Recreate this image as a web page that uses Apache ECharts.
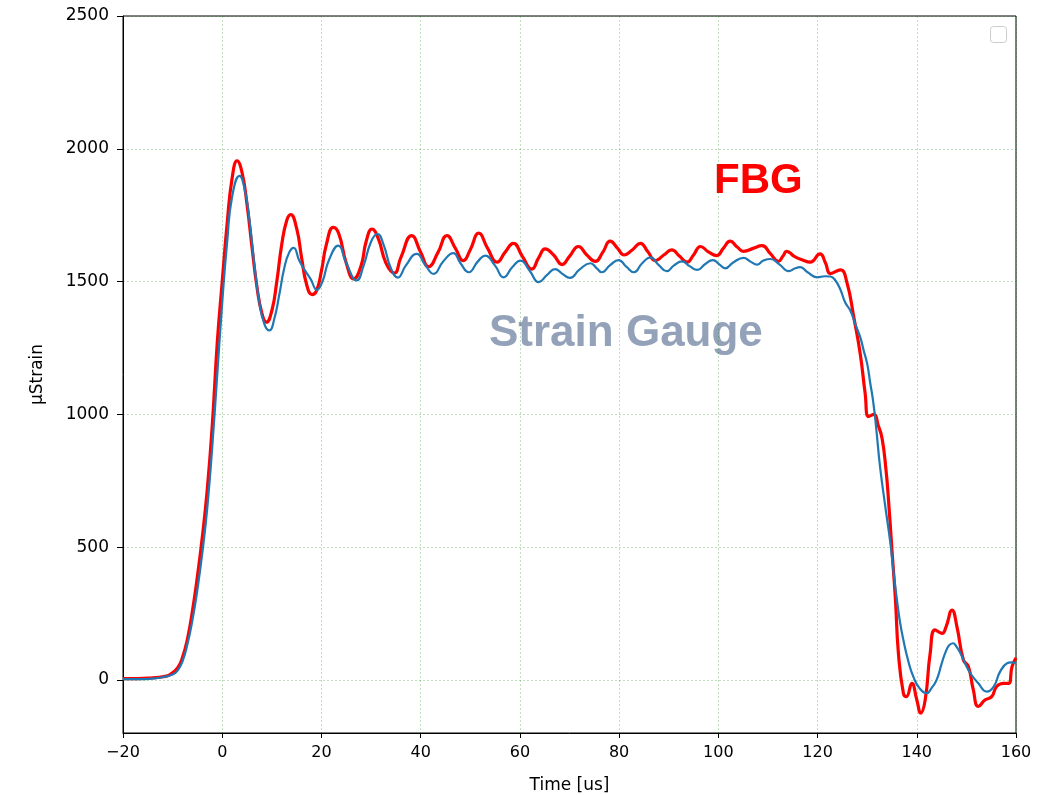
<!DOCTYPE html>
<html>
<head>
<meta charset="utf-8">
<script src="https://cdn.jsdelivr.net/npm/echarts@6/dist/echarts.min.js"></script>
<style>
html,body{margin:0;padding:0;background:#fff;}
#chart{width:1056px;height:795px;}
</style>
</head>
<body>
<div id="chart"></div>
<script>
const xTicks = [-20, 0, 20, 40, 60, 80, 100, 120, 140, 160];
const yTicks = [0, 500, 1000, 1500, 2000, 2500];

const fbgTime = [-20,-17,-14,-12,-10.5,-9,-8,-7,-6,-5,-4,-3,-2,-1,0,1,2,3,4,5,6,7,8,8.9,10,11,12,13,13.8,15,16,17,18.1,19,20,21,22.4,23.5,25,26.5,28,29,30.2,31.5,33,34.7,36,38.2,40,41.6,43.5,45.3,47,48.6,50,51.7,53.5,55.4,57,58.7,60.5,62.4,63.8,65.1,66.8,68.5,70,71.8,73.5,75.2,76.7,78.2,79.7,81,82.7,84.3,85.8,87.3,89,90.6,92.2,93.7,95,96.4,98,99.7,101,102.4,103.8,105.1,107,108.8,110.5,112.1,113,113.8,115.3,117,118.5,120.5,121.6,122.6,124.6,125.9,127.3,128.6,129.6,130.3,131.4,132.2,133,133.8,134.3,135,135.7,136.3,137.3,137.9,139,140,140.8,141.7,142.7,143.7,145.1,145.9,147.1,148.1,149.4,150.4,151.4,152.4,153.8,155.1,156.1,157.5,158.5,159.2,160];
const fbgStrain = [5,5,8,12,20,45,85,155,260,390,540,720,960,1270,1500,1720,1890,1955,1910,1790,1630,1480,1380,1347,1390,1500,1640,1730,1752,1700,1590,1490,1451,1465,1540,1640,1704,1680,1570,1510,1560,1650,1698,1660,1570,1532,1590,1673,1610,1556,1610,1673,1625,1579,1620,1682,1625,1573,1610,1644,1595,1547,1590,1623,1600,1564,1595,1632,1600,1576,1610,1652,1625,1600,1620,1644,1612,1579,1600,1619,1595,1573,1600,1632,1612,1598,1625,1652,1630,1614,1625,1635,1605,1576,1595,1614,1595,1581,1573,1604,1570,1530,1544,1498,1366,1228,1078,992,1000,960,910,790,677,489,301,100,-50,-63,-13,-75,-125,-75,100,188,175,200,263,200,75,50,-38,-100,-75,-63,-25,-13,-13,50,83];

const gaugeTime = [-20,-17,-14,-12,-10,-9,-8,-7,-6,-5,-4,-3,-2,-1,0,1,2,3.5,4.5,5.5,6.5,7.5,8.5,9.5,10.5,11.5,12.5,13.5,14.4,15.5,16.7,17.8,19.1,20.2,21.5,23.4,25,27.1,28.5,30,31.3,32.5,34,35.4,37,39.2,41,42.6,44.5,46.6,48,49.7,51.5,53,55,56.7,58.5,60.1,62,63.8,65.5,67.1,68.5,70.1,72,74.2,75.5,76.5,78.2,79.9,81.5,83,84.6,86.3,88,89.6,91,92.7,94.2,95.8,97.3,98.9,100.2,101.4,103,105.1,106.5,107.8,109,110.5,112.3,114.2,115.5,116.5,118,119.9,121.5,122.6,123.6,124.6,125.6,126.6,127.6,128.6,129.3,130,130.6,131.2,131.8,132.6,133.6,134.6,135.3,136,136.6,137.3,138.3,139.3,140.5,142,143,144,145,145.7,146.5,147.3,148,148.8,149.8,150.8,152.4,154.1,155.5,156.8,158.2,159,160];
const gaugeStrain = [3,3,5,10,20,35,70,135,225,340,480,650,880,1150,1420,1650,1820,1898,1850,1730,1560,1420,1340,1316,1360,1450,1550,1610,1627,1580,1541,1510,1469,1500,1580,1635,1570,1504,1560,1650,1679,1640,1550,1515,1560,1604,1560,1529,1575,1607,1570,1535,1575,1598,1560,1516,1555,1579,1540,1498,1525,1547,1530,1514,1545,1569,1550,1535,1562,1581,1555,1535,1568,1591,1562,1539,1560,1576,1558,1544,1565,1581,1565,1550,1572,1589,1575,1564,1578,1585,1565,1539,1550,1554,1535,1516,1520,1519,1504,1470,1420,1391,1340,1291,1240,1191,1120,1050,952,802,660,526,410,301,220,150,70,12,-30,-50,-30,0,60,100,130,138,125,100,60,25,-13,-44,-25,31,63,66,63];

const zip = (a, b) => a.map((v, i) => [v, b[i]]);

const chart = echarts.init(document.getElementById('chart'), null, {renderer: 'canvas'});
const gridLine = {show: true, lineStyle: {color: 'rgba(0,128,0,0.25)', type: [2, 2], width: 1}};
const fontFam = 'DejaVu Sans';

chart.setOption({
  animation: false,
  backgroundColor: '#fff',
  grid: {left: 123, right: 40, top: 16, bottom: 62, show: true, borderColor: '#000', borderWidth: 1,
    backgroundColor: 'transparent', containLabel: false, outerBoundsMode: 'none'},
  xAxis: {
    type: 'value', min: -20, max: 160, interval: 20,
    name: 'Time [us]', nameLocation: 'middle', nameGap: 44,
    nameTextStyle: {fontFamily: fontFam, fontSize: 17, color: '#000'},
    axisLine: {show: true, onZero: false, lineStyle: {color: '#000', width: 1}},
    axisTick: {show: true, length: 5, lineStyle: {color: '#000'}},
    axisLabel: {fontFamily: fontFam, fontSize: 16, color: '#000', margin: 12,
      formatter: v => (v < 0 ? '\u2212' + Math.abs(v) : String(v))},
    splitLine: gridLine
  },
  yAxis: {
    type: 'value', min: -200, max: 2500,
    name: '\u03bcStrain', nameLocation: 'middle', nameGap: 77,
    nameTextStyle: {fontFamily: fontFam, fontSize: 17, color: '#000'},
    axisLine: {show: true, onZero: false, lineStyle: {color: '#000', width: 1}},
    axisTick: {show: true, length: 6, lineStyle: {color: '#000'}, customValues: yTicks},
    axisLabel: {fontFamily: fontFam, fontSize: 17, color: '#000', margin: 14, customValues: yTicks,
      formatter: v => String(v)},
    splitLine: {show: false}
  },
  graphic: [
    {type: 'text', left: 714, top: 160, style: {text: 'FBG', fill: '#ff0000', font: 'bold 42px "Liberation Sans", Arial, sans-serif'}},
    {type: 'text', left: 489, top: 312, style: {text: 'Strain Gauge', fill: '#93a1b9', font: 'bold 44px "Liberation Sans", Arial, sans-serif'}},
    {type: 'rect', left: 990, top: 26, shape: {width: 16, height: 16, r: 3}, style: {fill: '#fff', stroke: '#cccccc', lineWidth: 1}}
  ],
  series: [
    {
      name: 'grid', type: 'line', data: [], silent: true,
      markLine: {silent: true, symbol: 'none', label: {show: false},
        lineStyle: {color: 'rgba(0,128,0,0.25)', type: [2, 2], width: 1},
        data: yTicks.map(v => ({yAxis: v}))},
      z: 1
    },
    {
      name: 'FBG', type: 'line', data: zip(fbgTime, fbgStrain), showSymbol: false,
      smooth: 0.5,
      lineStyle: {color: '#ff0000', width: 3.2}, z: 2
    },
    {
      name: 'Strain Gauge', type: 'line', data: zip(gaugeTime, gaugeStrain), showSymbol: false,
      smooth: 0.5,
      lineStyle: {color: '#1f77b4', width: 2.2}, z: 3
    }
  ]
});
</script>
</body>
</html>
